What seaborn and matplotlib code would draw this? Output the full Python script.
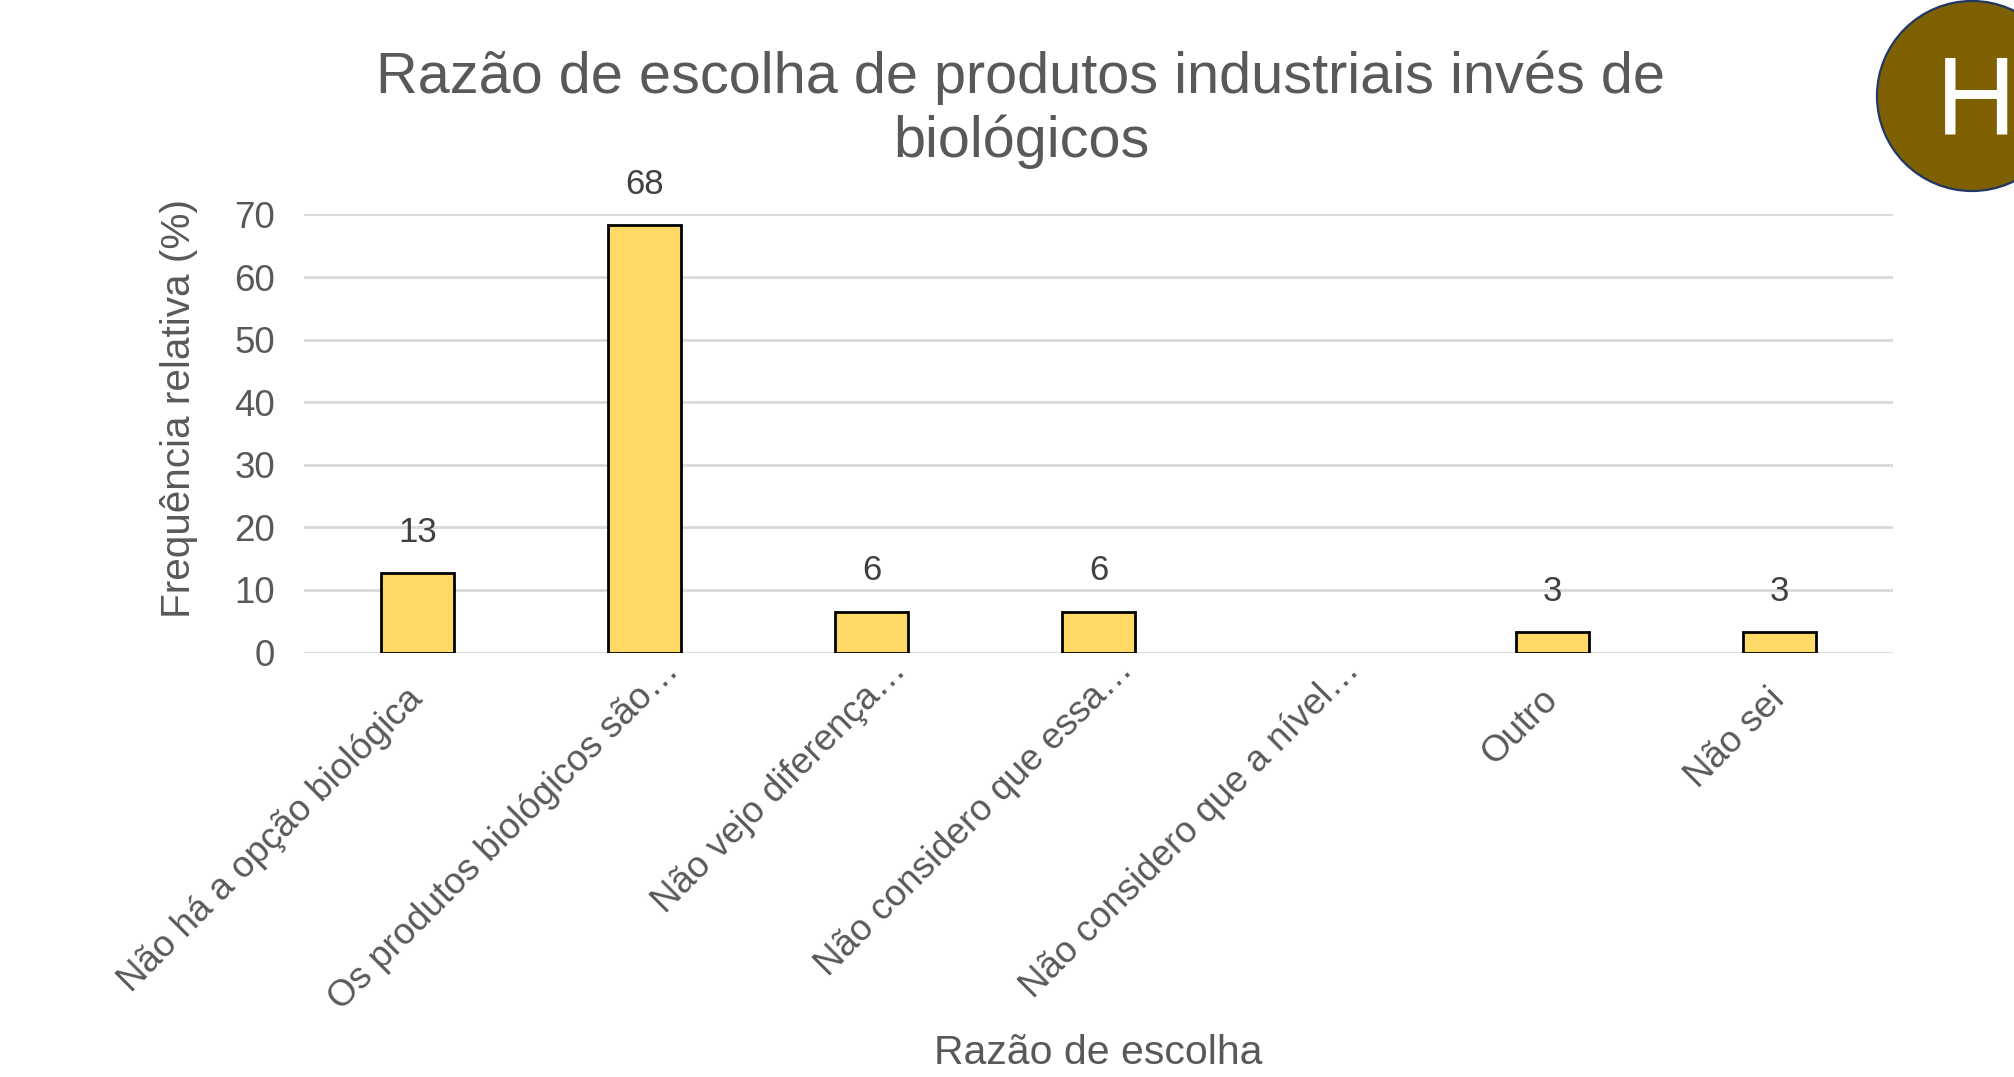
import matplotlib
matplotlib.use("Agg")
import matplotlib.pyplot as plt
import matplotlib.transforms as mtransforms
from matplotlib.patches import Circle
import seaborn as sns
import pandas as pd

categories = [
    "Não há a opção biológica",
    "Os produtos biológicos são…",
    "Não vejo diferença…",
    "Não considero que essa…",
    "Não considero que a nível…",
    "Outro",
    "Não sei",
]
values = [12.7, 68.3, 6.5, 6.5, 0.0, 3.2, 3.2]
value_labels = ["13", "68", "6", "6", "", "3", "3"]
yticks = [0, 10, 20, 30, 40, 50, 60, 70]

title_lines = ["Razão de escolha de produtos industriais invés de", "biológicos"]
xlabel = "Razão de escolha"
ylabel = "Frequência relativa (%)"
badge = "H"

sns.set_theme(style="white")
plt.rcParams["font.family"] = ["Liberation Sans", "DejaVu Sans"]

TXT = "#595959"
df = pd.DataFrame({"cat": categories, "val": values})

fig = plt.figure(figsize=(20.14, 10.77), dpi=100)
ax = fig.add_axes([304 / 2014, 1 - 652.5 / 1077, (1893 - 304) / 2014, (652.5 - 214.5) / 1077])

sns.barplot(data=df, x="cat", y="val", color="#FFD966", width=0.32,
            edgecolor="black", linewidth=2.0, saturation=1, ax=ax, zorder=3)
for p, v in zip(ax.patches, values):
    if v == 0:
        p.set_linewidth(0)

ax.set_ylim(0, 70)
ax.set_xlim(-0.5, len(categories) - 0.5)
ax.set_yticks(yticks)
ax.yaxis.grid(True, color="#D9D9D9", linewidth=2.0, zorder=0)
ax.set_axisbelow(True)
for s in ax.spines.values():
    s.set_visible(False)
ax.tick_params(axis="both", length=0)
ax.tick_params(axis="y", labelsize=26.5, labelcolor=TXT, pad=21)
ax.set_xticks(range(len(categories)))
ax.set_xticklabels(categories, rotation=45, ha="right", va="center",
                   rotation_mode="anchor", fontsize=26.5, color=TXT)
ax.tick_params(axis="x", pad=30)
for lab in ax.get_xticklabels():
    if lab.get_text().endswith("…"):
        lab.set_transform(lab.get_transform() +
                          mtransforms.ScaledTranslation(0.29, 0.29, fig.dpi_scale_trans))

for i, (v, lab) in enumerate(zip(values, value_labels)):
    if lab:
        ax.annotate(lab, (i, v), xytext=(0, 29.5), textcoords="offset points",
                    ha="center", va="center", fontsize=25, color="#404040")

ax.set_xlabel(xlabel, fontsize=29.5, color=TXT)
ax.set_ylabel(ylabel, fontsize=29.2, color=TXT)
ax.xaxis.set_label_coords(0.5, -0.87)
ax.yaxis.set_label_coords(-0.067, 0.558)

fig.text(1021 / 2014, 1 - 78 / 1077, title_lines[0], ha="center", va="center",
         fontsize=41.5, color=TXT)
fig.text(1021 / 2014, 1 - 142 / 1077, title_lines[1], ha="center", va="center",
         fontsize=41.5, color=TXT)

circ = Circle((19.72, (1077 - 96) / 100), 0.95, transform=fig.dpi_scale_trans,
              facecolor="#7F6000", edgecolor="#1F3864", linewidth=1.6)
fig.add_artist(circ)
fig.text(1976 / 2014, 1 - 106 / 1077, badge, ha="center", va="center",
         fontsize=80, color="white")

fig.savefig("out.png", dpi=100)
